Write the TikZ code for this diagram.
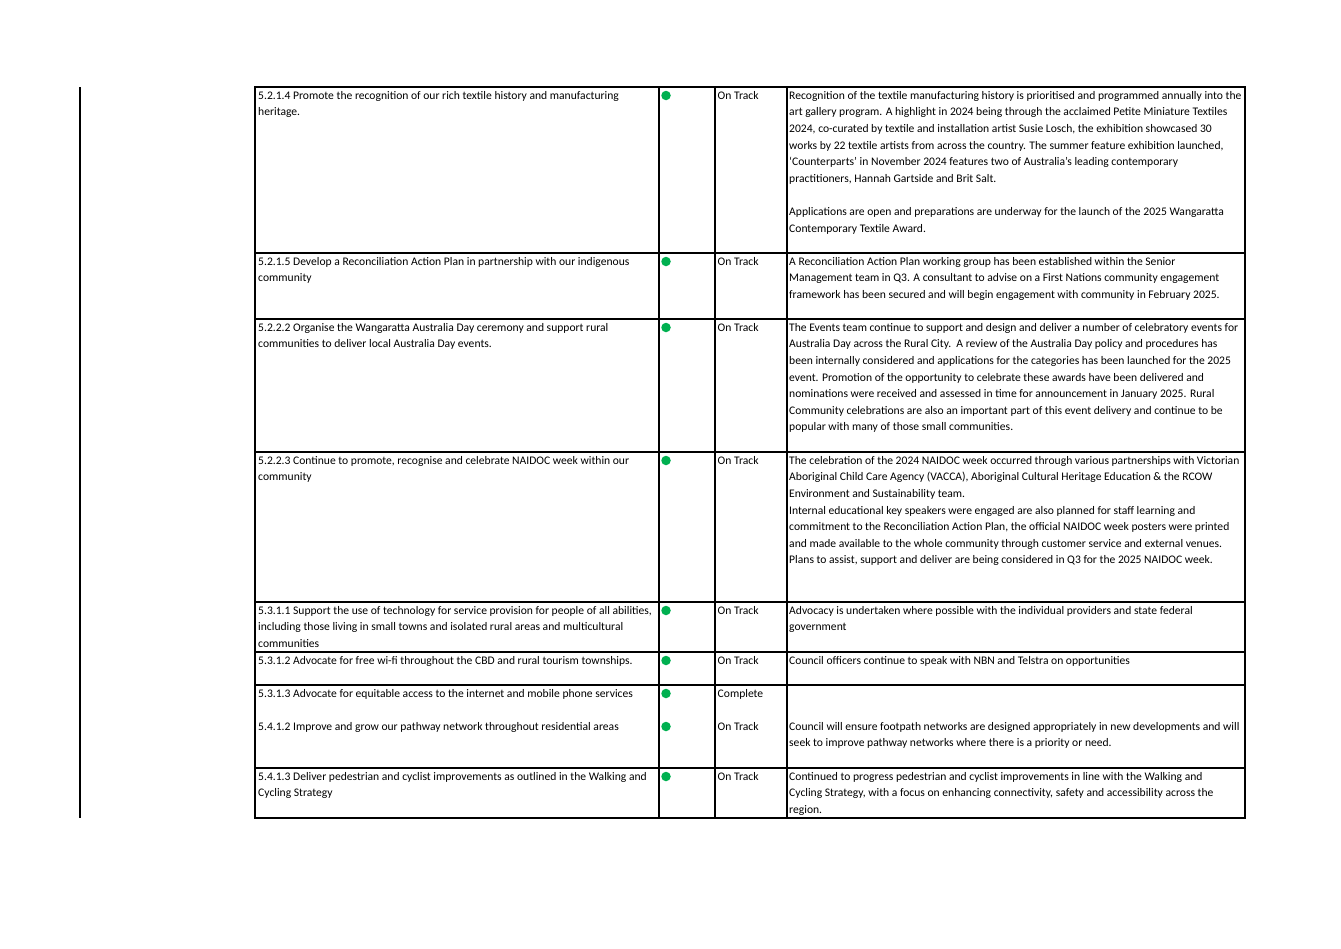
\documentclass[tikz,border=0pt]{standalone}
\usepackage{fontspec}
\setmainfont{Carlito}
\definecolor{okgreen}{HTML}{00B050}
\begin{document}
\begin{tikzpicture}[x=1pt,y=-1pt,
  txt/.style={anchor=north west,inner sep=0pt,align=left,font=\fontsize{11.6}{16.6}\selectfont},
  dot/.style={circle,fill=okgreen,inner sep=0pt,minimum size=9.5pt},
  grid/.style={line width=1.5pt,black}]
\useasboundingbox (0,0) rectangle (1341,948);
\draw[grid] (80,87) -- (80,818);
\draw[grid] (255,87) rectangle (1245,818);
\foreach \x in {659,715,787} \draw[grid] (\x,87) -- (\x,818);
\foreach \y in {253,319,452,602,652,685,768} \draw[grid] (255,\y) -- (1245,\y);
\def\rs#1#2#3#4#5{%
  \node[txt] (a#1) at (258,#2+0.5) {\strut #3};
  \node[dot] (d#1) at (666,#2+8.5) {};
  \node[txt] (s#1) at (717.5,#2+0.5) {\strut #4};
  \node[txt] (c#1) at (789,#2+0.5) {\strut #5};}
\rs{1}{87}{5.2.1.4 Promote the recognition of our rich textile history and manufacturing\\heritage.}{On Track}{Recognition of the textile manufacturing history is prioritised and programmed annually into the\\art gallery program. A highlight in 2024 being through the acclaimed Petite Miniature Textiles\\2024, co-curated by textile and installation artist Susie Losch, the exhibition showcased 30\\works by 22 textile artists from across the country. The summer feature exhibition launched,\\`Counterparts' in November 2024 features two of Australia's leading contemporary\\practitioners, Hannah Gartside and Brit Salt.\\[16.6pt]Applications are open and preparations are underway for the launch of the 2025 Wangaratta\\Contemporary Textile Award.}
\rs{2}{253}{5.2.1.5 Develop a Reconciliation Action Plan in partnership with our indigenous\\community}{On Track}{A Reconciliation Action Plan working group has been established within the Senior\\Management team in Q3. A consultant to advise on a First Nations community engagement\\framework has been secured and will begin engagement with community in February 2025.}
\rs{3}{319}{5.2.2.2 Organise the Wangaratta Australia Day ceremony and support rural\\communities to deliver local Australia Day events.}{On Track}{The Events team continue to support and design and deliver a number of celebratory events for\\Australia Day across the Rural City.\ \ A review of the Australia Day policy and procedures has\\been internally considered and applications for the categories has been launched for the 2025\\event. Promotion of the opportunity to celebrate these awards have been delivered and\\nominations were received and assessed in time for announcement in January 2025. Rural\\Community celebrations are also an important part of this event delivery and continue to be\\popular with many of those small communities.}
\rs{4}{452}{5.2.2.3 Continue to promote, recognise and celebrate NAIDOC week within our\\community}{On Track}{The celebration of the 2024 NAIDOC week occurred through various partnerships with Victorian\\Aboriginal Child Care Agency (VACCA), Aboriginal Cultural Heritage Education \& the RCOW\\Environment and Sustainability team.\\Internal educational key speakers were engaged are also planned for staff learning and\\commitment to the Reconciliation Action Plan, the official NAIDOC week posters were printed\\and made available to the whole community through customer service and external venues.\\Plans to assist, support and deliver are being considered in Q3 for the 2025 NAIDOC week.}
\rs{5}{602}{5.3.1.1 Support the use of technology for service provision for people of all abilities,\\including those living in small towns and isolated rural areas and multicultural\\communities}{On Track}{Advocacy is undertaken where possible with the individual providers and state federal\\government}
\rs{6}{652}{5.3.1.2 Advocate for free wi-fi throughout the CBD and rural tourism townships.}{On Track}{Council officers continue to speak with NBN and Telstra on opportunities}
\rs{7}{685}{5.3.1.3 Advocate for equitable access to the internet and mobile phone services}{Complete}{}
\rs{8}{718}{5.4.1.2 Improve and grow our pathway network throughout residential areas}{On Track}{Council will ensure footpath networks are designed appropriately in new developments and will\\seek to improve pathway networks where there is a priority or need.}
\rs{9}{768}{5.4.1.3 Deliver pedestrian and cyclist improvements as outlined in the Walking and\\Cycling Strategy}{On Track}{Continued to progress pedestrian and cyclist improvements in line with the Walking and\\Cycling Strategy, with a focus on enhancing connectivity, safety and accessibility across the\\region.}
\end{tikzpicture}
\end{document}
